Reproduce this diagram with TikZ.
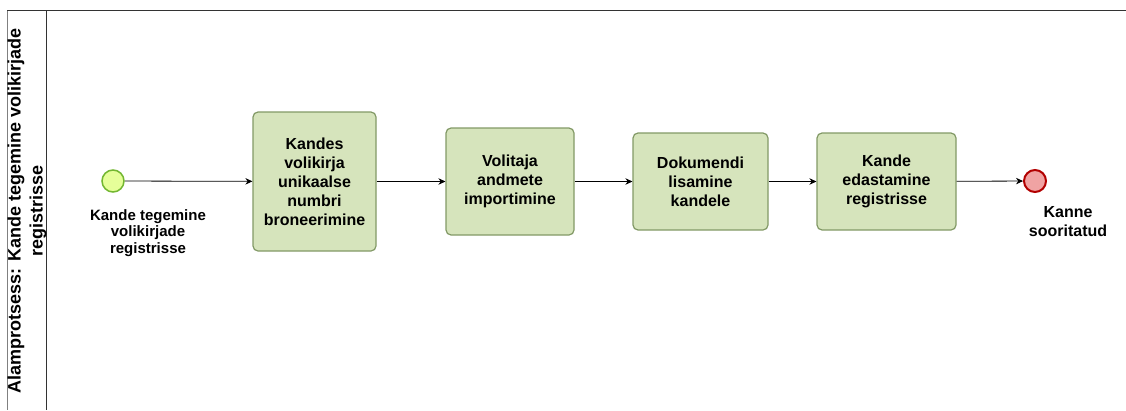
\documentclass[tikz,border=0pt]{standalone}
\usepackage{fontspec}
\setmainfont{Liberation Sans}
\usetikzlibrary{arrows.meta}

\definecolor{taskfill}{RGB}{214,228,188}
\definecolor{taskline}{RGB}{130,153,102}
\definecolor{startfill}{RGB}{230,255,153}
\definecolor{startline}{RGB}{115,183,49}
\definecolor{endfill}{RGB}{240,163,163}
\definecolor{endline}{RGB}{178,0,0}

\tikzset{
  task/.style={draw=taskline,fill=taskfill,line width=1.2pt,rounded corners=5pt,
    align=center,inner sep=0pt,font=\bfseries\fontsize{16}{19}\selectfont},
  startev/.style={circle,draw=startline,fill=startfill,line width=1.5pt,minimum size=22pt,inner sep=0pt},
  endev/.style={circle,draw=endline,fill=endfill,line width=2pt,minimum size=22pt,inner sep=0pt},
  flow/.style={-{Stealth[length=7pt,width=6.5pt]},line width=0.8pt},
}

\begin{document}
\begin{tikzpicture}[x=1pt,y=-1pt]
\useasboundingbox (0,0) rectangle (1126,410);

% pool and lane header
\draw[gray,line width=1pt] (7,10) -- (7,410);
\draw[black!80,line width=1pt] (7,10) -- (1126,10);
\draw[black!80,line width=1pt] (46,10) -- (46,410);
\node[rotate=90,align=center,font=\bfseries\fontsize{18}{22}\selectfont] (lane) at (27,211)
  {Alamprotsess: Kande tegemine volikirjade\\registrisse};

% events
\node[startev] (start) at (113,181) {};
\node[align=center,font=\bfseries\fontsize{15}{16.7}\selectfont] (startlbl) at (148,233)
  {Kande tegemine\\volikirjade\\registrisse};
\node[endev] (end) at (1035,181) {};
\node[align=center,font=\bfseries\fontsize{16}{19}\selectfont] (endlbl) at (1068,221.5)
  {Kanne\\sooritatud};

% tasks
\node[task,minimum width=123pt,minimum height=139pt] (book) at (314.5,181.5)
  {Kandes\\volikirja\\unikaalse\\numbri\\broneerimine};
\node[task,minimum width=128pt,minimum height=107pt] (import) at (510,181.5)
  {Volitaja\\andmete\\importimine};
\node[task,minimum width=135pt,minimum height=97pt] (attach) at (700.5,181.5)
  {Dokumendi\\lisamine\\kandele};
\node[task,minimum width=139pt,minimum height=97pt] (send) at (886.5,181.5)
  {Kande\\edastamine\\registrisse};

% sequence flows
\draw[flow] (start) -- (book);
\draw[flow] (book) -- (import);
\draw[flow] (import) -- (attach);
\draw[flow] (attach) -- (send);
\draw[flow] (send) -- (end);
\end{tikzpicture}
\end{document}
